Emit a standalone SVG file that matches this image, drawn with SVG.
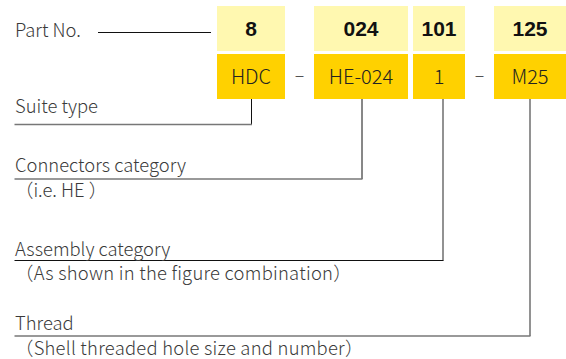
<svg xmlns="http://www.w3.org/2000/svg" width="566" height="359" viewBox="0 0 566 359">
  <style>
    .lbl { font-family: "Noto Sans CJK SC", "Noto Sans", sans-serif; font-size: 18.4px; font-weight: 300; fill: #3a3a3a; }
    .paren { letter-spacing: 0.25px; }
    .code { font-family: "Liberation Sans", Arial, sans-serif; font-weight: bold; font-size: 21px; fill: #111; text-anchor: middle; }
    .val { font-family: "Noto Sans CJK SC", "Noto Sans", sans-serif; font-size: 20px; font-weight: 300; fill: #222; text-anchor: middle; }
    .dash { font-family: "Noto Sans CJK SC", "Noto Sans", sans-serif; font-size: 18px; font-weight: 300; fill: #333; text-anchor: middle; }
    .top { fill: #FFF8B0; }
    .bot { fill: #FFD100; }
    .dk { stroke: #111; stroke-width: 1; fill: none; }
    .gr { stroke: #777; stroke-width: 1.6; fill: none; }
  </style>
  <rect width="566" height="359" fill="#fff"/>

  <g id="connectors">
    <line class="dk" x1="98" y1="32.5" x2="211" y2="32.5"/>
    <line class="dk" x1="251.5" y1="99" x2="251.5" y2="124.5"/>
    <line class="gr" x1="14.5" y1="124.5" x2="252" y2="124.5"/>
    <line class="dk" x1="362" y1="99" x2="362" y2="179"/>
    <line class="gr" x1="14.5" y1="179" x2="362.5" y2="179"/>
    <line class="gr" x1="443" y1="99" x2="443" y2="260.5"/>
    <line class="dk" x1="14.5" y1="260.5" x2="443.5" y2="260.5"/>
    <line class="gr" x1="530" y1="99" x2="530" y2="336"/>
    <line class="gr" x1="14.5" y1="336" x2="530.5" y2="336"/>
  </g>

  <g id="part-no">
    <text class="lbl" x="15" y="37">Part No.</text>
  </g>

  <g id="seg-hdc">
    <rect class="top" x="217" y="6" width="68" height="45"/>
    <rect class="bot" x="217" y="54" width="68" height="45"/>
    <text class="code" x="251" y="35.5">8</text>
    <text class="val" x="251" y="83.5">HDC</text>
  </g>

  <g id="dash1"><text class="dash" x="299.5" y="82">–</text></g>

  <g id="seg-he">
    <rect class="top" x="314" y="6" width="94" height="45"/>
    <rect class="bot" x="314" y="54" width="94" height="45"/>
    <text class="code" x="361" y="35.5">024</text>
    <text class="val" x="361" y="83.5">HE-024</text>
  </g>

  <g id="seg-1">
    <rect class="top" x="413" y="6" width="52" height="45"/>
    <rect class="bot" x="413" y="54" width="52" height="45"/>
    <text class="code" x="439" y="35.5">101</text>
    <text class="val" x="439" y="83.5">1</text>
  </g>

  <g id="dash2"><text class="dash" x="479.5" y="82">–</text></g>

  <g id="seg-m25">
    <rect class="top" x="494" y="6" width="72" height="45"/>
    <rect class="bot" x="494" y="54" width="72" height="45"/>
    <text class="code" x="530" y="35.5">125</text>
    <text class="val" x="530" y="83.5">M25</text>
  </g>

  <g id="suite-type">
    <text class="lbl" x="15" y="113">Suite type</text>
  </g>
  <g id="connectors-category">
    <text class="lbl" x="15" y="172">Connectors category</text>
    <text class="lbl" x="15" y="197">（i.e. HE ）</text>
  </g>
  <g id="assembly-category">
    <text class="lbl" x="15" y="256">Assembly category</text>
    <text class="lbl paren" x="15" y="280">（As shown in the figure combination）</text>
  </g>
  <g id="thread">
    <text class="lbl" x="15" y="330">Thread</text>
    <text class="lbl paren" x="15" y="355">（Shell threaded hole size and number）</text>
  </g>
</svg>
